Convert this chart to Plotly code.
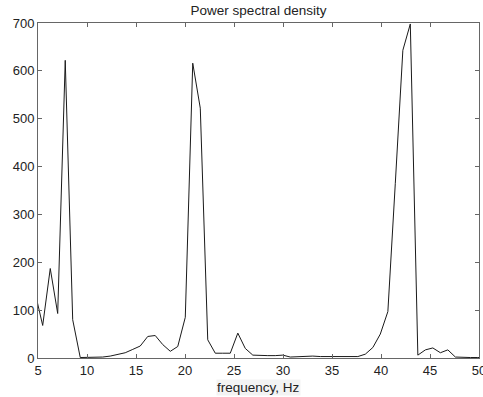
import plotly.graph_objects as go

freq_hz = [4.71, 5.48, 6.25, 7.01, 7.78, 8.54, 9.31, 10.07, 10.84, 11.60,
           12.37, 13.14, 13.90, 14.67, 15.43, 16.20, 16.96, 17.73, 18.50, 19.26,
           20.03, 20.79, 21.56, 22.32, 23.09, 23.85, 24.62, 25.39, 26.15, 26.92,
           27.68, 28.45, 29.21, 29.98, 30.74, 31.51, 32.28, 33.04, 33.81, 34.57,
           35.34, 36.10, 36.87, 37.64, 38.40, 39.17, 39.93, 40.70, 41.46, 42.23,
           42.99, 43.76, 44.53, 45.29, 46.06, 46.82, 47.59, 48.35, 49.12, 49.88,
           50.65]
psd = [136, 68, 187, 93, 622, 80, 1, 1, 1, 2,
       4, 8, 11, 18, 25, 45, 47, 28, 14, 24,
       85, 616, 522, 38, 10, 10, 10, 52, 20, 6,
       5, 5, 5, 6, 2, 3, 3, 4, 3, 3,
       2, 2, 2, 3, 8, 22, 50, 97, 365, 643,
       698, 6, 17, 21, 11, 17, 2, 1, 1, 1,
       1]

x_ticks = [5, 10, 15, 20, 25, 30, 35, 40, 45, 50]
y_ticks = [0, 100, 200, 300, 400, 500, 600, 700]

font_family = "Liberation Sans, Arial, sans-serif"

fig = go.Figure()
fig.add_trace(go.Scatter(x=freq_hz, y=psd, mode="lines",
                         line=dict(color="#1a1a1a", width=1),
                         hoverinfo="skip", showlegend=False))

axis_common = dict(showgrid=False, zeroline=False, showline=True,
                   linecolor="#666666", linewidth=1, mirror="ticks",
                   ticks="inside", ticklen=4, tickcolor="#666666",
                   ticklabeloverflow="allow", automargin=False,
                   tickfont=dict(family=font_family, size=13, color="#222222"))

fig.update_xaxes(range=[5, 50], tickvals=x_ticks,
                 ticktext=[str(v) for v in x_ticks], **axis_common)
fig.update_yaxes(range=[0, 700], tickvals=y_ticks,
                 ticktext=[str(v) for v in y_ticks], **axis_common)

fig.update_layout(
    width=483, height=397,
    margin=dict(l=38, r=4, t=23, b=39, autoexpand=False),
    paper_bgcolor="white", plot_bgcolor="white",
    title=dict(text="Power spectral density", x=(38 + 479) / 2 / 483,
               xanchor="center", y=1 - 10 / 397, yanchor="middle",
               font=dict(family=font_family, size=13.5, color="#222222")),
    annotations=[dict(text="frequency, Hz", xref="paper", yref="paper",
                      x=0.5, y=-29 / 335, xanchor="center", yanchor="middle",
                      showarrow=False, bgcolor="#f3f3f3", borderpad=0,
                      font=dict(family=font_family, size=13.5, color="#222222"))],
)

fig.write_html("out.html")
